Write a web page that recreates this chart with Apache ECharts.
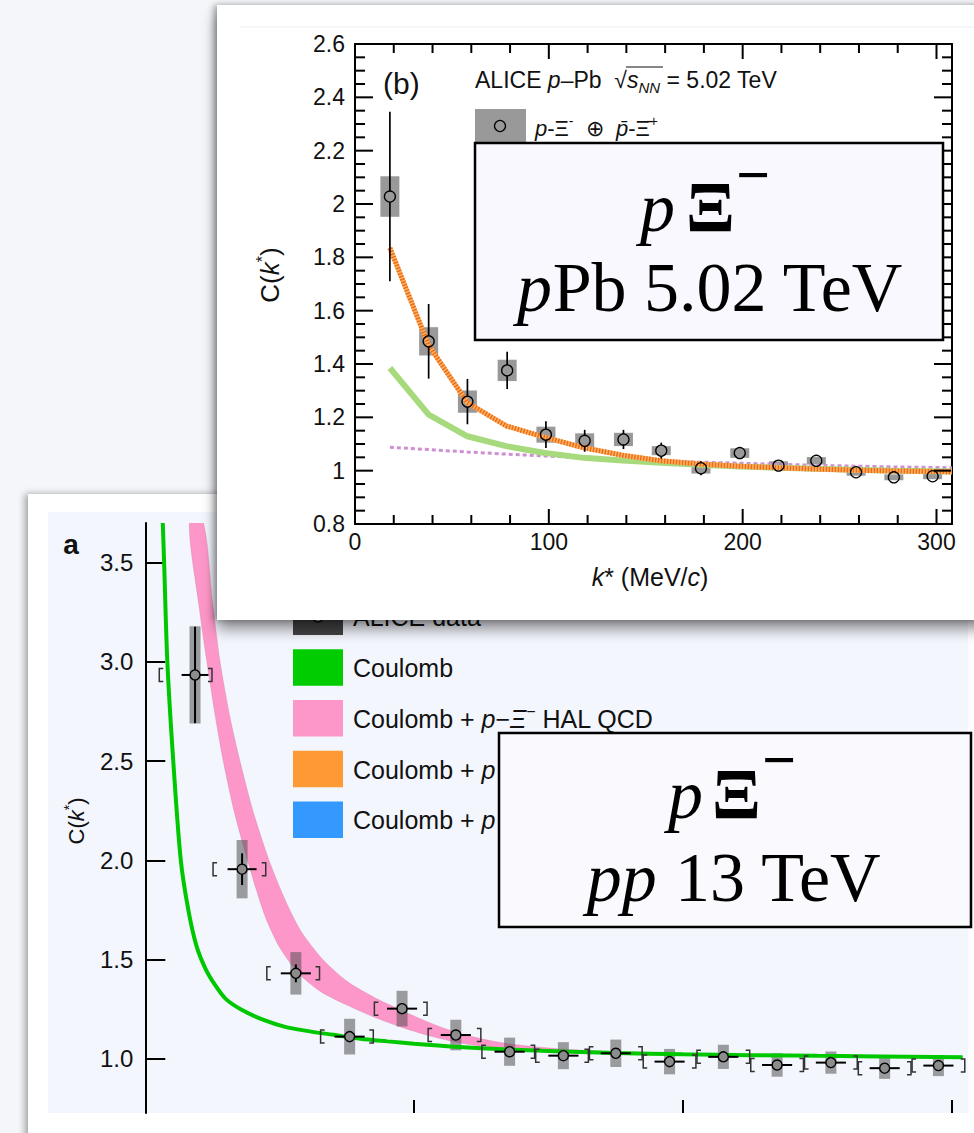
<!DOCTYPE html>
<html>
<head>
<meta charset="utf-8">
<script src="https://cdn.jsdelivr.net/npm/echarts@6/dist/echarts.min.js"></script>
<style>
html, body { margin: 0; padding: 0; width: 974px; height: 1133px; overflow: hidden; background: #f4f6fa; }
.card { position: absolute; background: #fff; overflow: hidden; }
#cardA { left: 28px; top: 494px; width: 960px; height: 660px; box-shadow: -3px 0 7px rgba(0,0,0,0.35); }
#cardB { left: 217px; top: 5px; width: 780px; height: 615px; z-index: 2;
  box-shadow: 0 9px 14px rgba(0,0,0,0.45), -3px 0 6px rgba(0,0,0,0.3); }
.chart { width: 100%; height: 100%; }
</style>
</head>
<body>
<div id="cardA" class="card"><div id="chartA" class="chart"></div></div>
<div id="cardB" class="card"><div id="chartB" class="chart"></div></div>
<script>
// ---------- panel (b): p-Pb 5.02 TeV ----------
const kB    = [18, 38, 58, 78.5, 98.5, 118.5, 138.5, 158, 178.5, 198.5, 218.5, 238, 258.5, 278, 298];
const cB    = [2.028, 1.485, 1.259, 1.376, 1.135, 1.112, 1.117, 1.075, 1.009, 1.066, 1.019, 1.037, 0.994, 0.975, 0.979];
const statB = [0.318, 0.14, 0.085, 0.07, 0.05, 0.041, 0.036, 0.03, 0.026, 0.022, 0.018, 0.015, 0.012, 0.01, 0.01];
const sysB  = [0.076, 0.053, 0.042, 0.04, 0.03, 0.028, 0.025, 0.017, 0.02, 0.018, 0.016, 0.014, 0.013, 0.011, 0.011];

const modelKB  = [18, 38, 58, 78, 98, 118, 138, 158, 178, 198, 218, 238, 258, 278, 298, 308];
const strongB  = [1.835, 1.47, 1.255, 1.168, 1.125, 1.086, 1.058, 1.037, 1.025, 1.017, 1.011, 1.006, 1.002, 0.999, 0.997, 0.996];
const coulombB = [1.385, 1.21, 1.129, 1.092, 1.066, 1.048, 1.038, 1.03, 1.022, 1.016, 1.011, 1.007, 1.003, 1.0, 0.998, 0.997];
const dottedB  = [1.088, 1.079, 1.07, 1.062, 1.055, 1.049, 1.043, 1.037, 1.032, 1.028, 1.024, 1.02, 1.017, 1.014, 1.012, 1.011];

const xMajorB = [0, 100, 200, 300];
const xMinorB = [20, 40, 60, 80, 120, 140, 160, 180, 220, 240, 260, 280];
const yMajorB = [0.8, 1, 1.2, 1.4, 1.6, 1.8, 2, 2.2, 2.4, 2.6];
const yMinorB = [0.85, 0.9, 0.95, 1.05, 1.1, 1.15, 1.25, 1.3, 1.35, 1.45, 1.5, 1.55, 1.65, 1.7, 1.75,
                 1.85, 1.9, 1.95, 2.05, 2.1, 2.15, 2.25, 2.3, 2.35, 2.45, 2.5, 2.55];

// ---------- panel (a): pp 13 TeV ----------
const kA    = [18.5, 36, 56, 76, 95.5, 115.5, 135.5, 155.5, 175, 195, 215, 235, 255, 275, 295];
const binA  = [15, 35, 55, 75, 95, 115, 135, 155, 175, 195, 215, 235, 255, 275, 295];
const cA    = [2.934, 1.955, 1.43, 1.111, 1.252, 1.119, 1.035, 1.015, 1.027, 0.985, 1.009, 0.968, 0.98, 0.952, 0.965];
const statA = [0.243, 0.08, 0.045, 0.012, 0.012, 0.01, 0.01, 0.008, 0.008, 0.008, 0.008, 0.008, 0.008, 0.008, 0.008];
const sysA  = [0.245, 0.147, 0.107, 0.09, 0.09, 0.077, 0.071, 0.068, 0.069, 0.064, 0.061, 0.059, 0.056, 0.054, 0.053];
const kErrA = [5, 5.4, 5.6, 5.6, 5.6, 5.6, 5.6, 5.6, 5.6, 5.6, 5.6, 5.6, 5.6, 5.6, 5.6];
const binHalfA = 9.8;

const coulombAK = [6.5, 7, 8.2, 10.4, 13.2, 16, 19, 22.5, 26, 30, 36, 44, 52, 60, 70, 80, 90, 100, 115, 135, 155, 175, 200, 250, 304];
const coulombAC = [3.7, 3.5, 3.0, 2.5, 2.0, 1.75, 1.57, 1.45, 1.37, 1.3, 1.245, 1.195, 1.16, 1.14, 1.12, 1.1, 1.087, 1.075, 1.06, 1.046, 1.036, 1.029, 1.022, 1.014, 1.007];

const halLowK  = [16.4, 20, 22.9, 26, 29, 33, 38, 44.5, 50, 57, 65, 75, 85, 95, 105, 115, 125, 135, 155, 175, 200, 250, 304];
const halLowC  = [3.7, 3.28, 3.0, 2.73, 2.5, 2.25, 2.0, 1.72, 1.56, 1.43, 1.34, 1.27, 1.21, 1.16, 1.118, 1.085, 1.062, 1.045, 1.032, 1.025, 1.019, 1.012, 1.006];
const halHighK = [21.6, 25, 27.8, 31.5, 35.2, 40, 46, 52, 58, 66, 75, 85, 95, 105, 115, 125, 135, 155, 175, 200, 250, 304];
const halHighC = [3.7, 3.3, 3.0, 2.72, 2.5, 2.25, 2.0, 1.8, 1.64, 1.5, 1.39, 1.31, 1.245, 1.185, 1.135, 1.1, 1.075, 1.048, 1.035, 1.026, 1.016, 1.009];

const yTicksA = [1.0, 1.5, 2.0, 2.5, 3.0, 3.5];
const xTicksA = [100, 200, 300];

const legendA = [
  { color: '#00cc00', text: '{n|Coulomb}' },
  { color: '#fe97c9', text: '{n|Coulomb + }{i|p}{n|−}{i|Ξ}{sup|−}{n| HAL QCD}' },
  { color: '#ff9933', text: '{n|Coulomb + }{i|p}' },
  { color: '#3399ff', text: '{n|Coulomb + }{i|p}' }
];

const SANS = 'Liberation Sans, Arial, Helvetica, sans-serif';
const SERIF = 'Liberation Serif, Times New Roman, serif';

function richSans(size) {
  return {
    n: { fontFamily: SANS, fontSize: size, lineHeight: size + 6, fill: '#111' },
    i: { fontFamily: SANS, fontSize: size, lineHeight: size + 6, fontStyle: 'italic', fill: '#111' },
    sup: { fontFamily: SANS, fontSize: Math.round(size * 0.62), lineHeight: Math.round(size * 0.62), verticalAlign: 'top', fill: '#111' },
    sub: { fontFamily: SANS, fontSize: Math.round(size * 0.66), lineHeight: Math.round(size * 0.66), verticalAlign: 'bottom', fontStyle: 'italic', fill: '#111' }
  };
}
function richSerif(size) {
  return {
    n: { fontFamily: SERIF, fontSize: size, fill: '#000' },
    i: { fontFamily: SERIF, fontSize: size, fontStyle: 'italic', fill: '#000' }
  };
}

// a fresh style object for every element (shared objects got lost between siblings)
const blackLine = w => ({ stroke: '#000', lineWidth: w });

// ================= chart (b) =================
const chartB = echarts.init(document.getElementById('chartB'), null, { renderer: 'svg' });
const fmtB = v => String(Math.round(v * 10) / 10);
const X0 = 0, X1 = 308, Y0 = 0.8, Y1 = 2.6;

// frame ticks on all four sides (ROOT style), placed through the axis scales
const tickData = []
  .concat(xMajorB.map(v => [v, 0, 15]))
  .concat(xMinorB.map(v => [v, 0, 9]))
  .concat(yMajorB.map(v => [v, 1, 18]))
  .concat(yMinorB.map(v => [v, 1, 10]));

function frameTicks(params, api) {
  const v = api.value(0), dim = api.value(2), len = api.value(3);
  if (dim === 0) {
    const b = api.coord([v, Y0]), t = api.coord([v, Y1]);
    return { type: 'group', children: [
      { type: 'line', shape: { x1: b[0], y1: b[1] - 1, x2: b[0], y2: b[1] - len }, style: blackLine(2) },
      { type: 'line', shape: { x1: t[0], y1: t[1] + 1, x2: t[0], y2: t[1] + len }, style: blackLine(2) }
    ] };
  }
  const l = api.coord([X0, v]), r = api.coord([X1, v]);
  return { type: 'group', children: [
    { type: 'line', shape: { x1: l[0] + 1, y1: l[1], x2: l[0] + len, y2: l[1] }, style: blackLine(2) },
    { type: 'line', shape: { x1: r[0] - 1, y1: r[1], x2: r[0] - len, y2: r[1] }, style: blackLine(2) }
  ] };
}

chartB.setOption({
  animation: false,
  grid: { left: 138, top: 39, right: 45, bottom: 96 },
  xAxis: [
    {
      type: 'value', min: X0, max: X1, position: 'bottom',
      axisLine: { show: true, onZero: false, lineStyle: { color: '#000', width: 2 } },
      axisTick: { show: false },
      axisLabel: { show: true, customValues: xMajorB, fontSize: 23, margin: 6, color: '#111', fontFamily: SANS },
      splitLine: { show: false }
    },
    {
      type: 'value', min: X0, max: X1, position: 'top',
      axisLine: { show: true, onZero: false, lineStyle: { color: '#000', width: 2 } },
      axisTick: { show: false }, axisLabel: { show: false }, splitLine: { show: false }
    }
  ],
  yAxis: [
    {
      type: 'value', min: Y0, max: Y1, position: 'left',
      axisLine: { show: true, onZero: false, lineStyle: { color: '#000', width: 2 } },
      axisTick: { show: false },
      axisLabel: { show: true, customValues: yMajorB, fontSize: 23, margin: 10, color: '#111', fontFamily: SANS, formatter: fmtB },
      splitLine: { show: false }
    },
    {
      type: 'value', min: Y0, max: Y1, position: 'right',
      axisLine: { show: true, onZero: false, lineStyle: { color: '#000', width: 2 } },
      axisTick: { show: false }, axisLabel: { show: false }, splitLine: { show: false }
    }
  ],
  series: [
    {
      type: 'custom', z: 1,
      data: kB.map((k, i) => [k, cB[i], sysB[i]]),
      renderItem: (params, api) => {
        const a = api.coord([api.value(0), api.value(1) + api.value(2)]);
        const b = api.coord([api.value(0), api.value(1) - api.value(2)]);
        return { type: 'rect', shape: { x: a[0] - 9.5, y: a[1], width: 19, height: b[1] - a[1] }, style: { fill: '#999999' } };
      }
    },
    {
      type: 'line', z: 2, showSymbol: false, silent: true,
      data: modelKB.map((k, i) => [k, dottedB[i]]),
      lineStyle: { color: '#cf8fd3', width: 3, type: [4, 3] }
    },
    {
      type: 'line', z: 3, showSymbol: false, silent: true,
      data: modelKB.map((k, i) => [k, coulombB[i]]),
      lineStyle: { color: '#a6da7c', width: 6 }
    },
    {
      type: 'line', z: 4, showSymbol: false, silent: true,
      data: modelKB.map((k, i) => [k, strongB[i]]),
      lineStyle: { color: '#fbb46a', width: 5 }
    },
    {
      type: 'line', z: 5, showSymbol: false, silent: true,
      data: modelKB.map((k, i) => [k, strongB[i]]),
      lineStyle: { color: '#ef6c12', width: 5, type: [1.5, 1.5] }
    },
    {
      type: 'custom', z: 6,
      data: kB.map((k, i) => [k, cB[i], statB[i]]),
      renderItem: (params, api) => {
        const c = api.coord([api.value(0), api.value(1)]);
        const a = api.coord([api.value(0), api.value(1) + api.value(2)]);
        const b = api.coord([api.value(0), api.value(1) - api.value(2)]);
        const r = 5.5, ch = [];
        if (c[1] - a[1] > r) ch.push({ type: 'line', shape: { x1: c[0], y1: a[1], x2: c[0], y2: c[1] - r }, style: blackLine(1.7) });
        if (b[1] - c[1] > r) ch.push({ type: 'line', shape: { x1: c[0], y1: c[1] + r, x2: c[0], y2: b[1] }, style: blackLine(1.7) });
        return { type: 'group', children: ch };
      }
    },
    {
      type: 'scatter', z: 7, symbol: 'circle', symbolSize: 11,
      data: kB.map((k, i) => [k, cB[i]]),
      itemStyle: { color: 'rgba(0,0,0,0)', borderColor: '#000', borderWidth: 1.3, opacity: 1 }
    },
    {
      // y = 1.5 only keeps every tick item inside the axis range
      type: 'custom', z: 20, silent: true, clip: false,
      data: tickData.map(t => [t[0], 1.5, t[1], t[2]]),
      encode: { x: 0, y: 1 },
      renderItem: frameTicks
    }
  ],
  graphic: [
    { type: 'line', z: 0, shape: { x1: 23, y1: 22, x2: 780, y2: 22 }, style: { stroke: '#eceef2', lineWidth: 1 } },
    { type: 'text', z: 50, x: 166, y: 78, style: { text: '(b)', fontFamily: SANS, fontSize: 30, fill: '#111', textVerticalAlign: 'middle' } },
    { type: 'text', z: 50, x: 258, y: 75, style: { text: '{n|ALICE }{i|p}{n|–Pb  √}{i|s}{sub|NN}{n| = 5.02 TeV}', rich: richSans(23), textVerticalAlign: 'middle' } },
    { type: 'line', z: 50, shape: { x1: 409, y1: 62, x2: 446, y2: 62 }, style: { stroke: '#111', lineWidth: 1.2 } },
    { type: 'rect', z: 50, shape: { x: 258, y: 104, width: 51, height: 34 }, style: { fill: '#999999' } },
    { type: 'circle', z: 51, shape: { cx: 283, cy: 121, r: 5.5 }, style: { fill: 'none', stroke: '#000', lineWidth: 1.3 } },
    { type: 'text', z: 50, x: 318, y: 123, style: { text: '{i|p}{n|-Ξ}{sup|-}{n|  ⊕  }{i|p̄}{n|-Ξ̄}{sup|+}', rich: richSans(22), textVerticalAlign: 'middle' } },
    { type: 'rect', z: 60, shape: { x: 258, y: 138, width: 468, height: 197 }, style: { fill: '#f8f8fe', stroke: '#000', lineWidth: 2.5 } },
    { type: 'text', z: 61, x: 423, y: 202, style: { text: 'p', fontFamily: SERIF, fontSize: 70, fontStyle: 'italic', fill: '#000', textVerticalAlign: 'middle' } },
    { type: 'text', z: 61, x: 469, y: 202, style: { text: 'Ξ', fontFamily: SERIF, fontSize: 72, fontWeight: 'bold', fill: '#000', textVerticalAlign: 'middle' } },
    { type: 'text', z: 61, x: 519, y: 170, style: { text: '−', fontFamily: SERIF, fontSize: 60, fontWeight: 'bold', fill: '#000', textVerticalAlign: 'middle' } },
    { type: 'text', z: 61, x: 493, y: 282, style: { text: '{i|p}{n|Pb 5.02 TeV}', rich: richSerif(70), textAlign: 'center', textVerticalAlign: 'middle' } },
    { type: 'text', z: 50, x: 53, y: 270, rotation: Math.PI / 2,
      style: { text: '{n|C(}{i|k}{sup|*}{n|)}', rich: richSans(26), textAlign: 'center', textVerticalAlign: 'middle' } },
    { type: 'text', z: 50, x: 433, y: 572,
      style: { text: '{i|k}{n|* (MeV/}{i|c}{n|)}', rich: richSans(25), textAlign: 'center', textVerticalAlign: 'middle' } }
  ]
});

// ================= chart (a) =================
const chartA = echarts.init(document.getElementById('chartA'), null, { renderer: 'svg' });
const legendGraphics = [];
legendA.forEach((item, i) => {
  const y = 155.3 + i * 50.7;
  legendGraphics.push({ type: 'rect', z: 10, shape: { x: 265, y: y, width: 50, height: 36.5 }, style: { fill: item.color } });
  legendGraphics.push({ type: 'text', z: 10, x: 325, y: y + 19, style: { text: item.text, rich: richSans(25), textVerticalAlign: 'middle' } });
});

chartA.setOption({
  animation: false,
  grid: { left: 117.3, top: 29, right: 20, bottom: 41 },
  xAxis: [
    {
      type: 'value', min: 0, max: 306,
      axisLine: { show: true, onZero: false, lineStyle: { color: 'rgba(0,0,0,0)' } },
      axisTick: { show: true, inside: true, length: 13, customValues: xTicksA, lineStyle: { color: '#000', width: 2 } },
      axisLabel: { show: false }, splitLine: { show: false }
    }
  ],
  yAxis: [
    {
      type: 'value', min: 0.726, max: 3.7,
      axisLine: { show: true, onZero: false, lineStyle: { color: '#000', width: 2 } },
      axisTick: { show: true, inside: true, length: 20, customValues: yTicksA, lineStyle: { color: '#000', width: 2 } },
      axisLabel: { show: true, customValues: yTicksA, fontSize: 24, margin: 12, color: '#111', fontFamily: SANS, formatter: v => v.toFixed(1) },
      splitLine: { show: false }
    }
  ],
  series: [
    {
      type: 'custom', z: 1, clip: true, silent: true,
      data: [[0, 1]],
      renderItem: (params, api) => {
        const pts = halHighK.map((k, i) => api.coord([k, halHighC[i]]))
          .concat(halLowK.map((k, i) => api.coord([k, halLowC[i]])).reverse());
        return { type: 'polygon', shape: { points: pts, smooth: 0.25 }, style: { fill: '#fe97c9', stroke: 'rgba(200,120,160,0.35)', lineWidth: 1 } };
      }
    },
    {
      type: 'custom', z: 2,
      data: kA.map((k, i) => [k, cA[i], sysA[i]]),
      renderItem: (params, api) => {
        const a = api.coord([api.value(0), api.value(1) + api.value(2)]);
        const b = api.coord([api.value(0), api.value(1) - api.value(2)]);
        return { type: 'rect', shape: { x: a[0] - 5.5, y: a[1], width: 11, height: b[1] - a[1] }, style: { fill: 'rgba(80,80,80,0.55)' } };
      }
    },
    {
      type: 'line', z: 3, showSymbol: false, silent: true, smooth: 0.3,
      data: coulombAK.map((k, i) => [k, coulombAC[i]]),
      lineStyle: { color: '#00c800', width: 4 }
    },
    {
      type: 'custom', z: 4,
      data: kA.map((k, i) => [k, cA[i], statA[i], binA[i], kErrA[i]]),
      renderItem: (params, api) => {
        const k = api.value(0), c = api.value(1), st = api.value(2), bin = api.value(3), kx = api.value(4);
        const p = api.coord([k, c]);
        const t = api.coord([k, c + st]);
        const b = api.coord([k, c - st]);
        const l = api.coord([k - kx, c]);
        const r = api.coord([k + kx, c]);
        const bl = api.coord([bin - binHalfA, c]);
        const br = api.coord([bin + binHalfA, c]);
        const bracket = () => ({ stroke: '#333', lineWidth: 1.5, fill: 'none' });
        const h = 6.5, w = 4;
        return {
          type: 'group', children: [
            { type: 'line', shape: { x1: p[0], y1: t[1], x2: p[0], y2: b[1] }, style: blackLine(2) },
            { type: 'line', shape: { x1: l[0], y1: p[1], x2: r[0], y2: p[1] }, style: blackLine(2) },
            { type: 'polyline', shape: { points: [[bl[0] + w, p[1] - h], [bl[0], p[1] - h], [bl[0], p[1] + h], [bl[0] + w, p[1] + h]] }, style: bracket() },
            { type: 'polyline', shape: { points: [[br[0] - w, p[1] - h], [br[0], p[1] - h], [br[0], p[1] + h], [br[0] - w, p[1] + h]] }, style: bracket() }
          ]
        };
      }
    },
    {
      type: 'scatter', z: 5, symbol: 'circle', symbolSize: 10,
      data: kA.map((k, i) => [k, cA[i]]),
      itemStyle: { color: '#8c8c8c', borderColor: '#000', borderWidth: 1.4, opacity: 1 }
    }
  ],
  graphic: [
    { type: 'rect', z: -5, shape: { x: 20, y: 18, width: 920, height: 601 }, style: { fill: '#f3f6fd' } },
    { type: 'text', z: 10, x: 43, y: 50, style: { text: 'a', fontFamily: SANS, fontSize: 28, fontWeight: 'bold', fill: '#111', textAlign: 'center', textVerticalAlign: 'middle' } },
    { type: 'text', z: 10, x: 48, y: 327, rotation: Math.PI / 2,
      style: { text: '{n|C(}{i|k}{sup|*}{n|)}', rich: richSans(22), textAlign: 'center', textVerticalAlign: 'middle' } },
    { type: 'rect', z: 10, shape: { x: 265, y: 104.6, width: 50, height: 36.5 }, style: { fill: '#444444' } },
    { type: 'circle', z: 11, shape: { cx: 290, cy: 123, r: 5 }, style: { fill: '#8c8c8c', stroke: '#000', lineWidth: 1.4 } },
    { type: 'text', z: 10, x: 325, y: 123, style: { text: 'ALICE data', fontFamily: SANS, fontSize: 25, fill: '#111', textVerticalAlign: 'middle' } },
    ...legendGraphics,
    { type: 'rect', z: 60, shape: { x: 471, y: 239, width: 472, height: 194 }, style: { fill: '#f9f9fe', stroke: '#000', lineWidth: 2.5 } },
    { type: 'text', z: 61, x: 640, y: 300, style: { text: 'p', fontFamily: SERIF, fontSize: 70, fontStyle: 'italic', fill: '#000', textVerticalAlign: 'middle' } },
    { type: 'text', z: 61, x: 684, y: 300, style: { text: 'Ξ', fontFamily: SERIF, fontSize: 72, fontWeight: 'bold', fill: '#000', textVerticalAlign: 'middle' } },
    { type: 'text', z: 61, x: 734, y: 266, style: { text: '−', fontFamily: SERIF, fontSize: 60, fontWeight: 'bold', fill: '#000', textVerticalAlign: 'middle' } },
    { type: 'text', z: 61, x: 706, y: 383, style: { text: '{i|pp}{n| 13 TeV}', rich: richSerif(70), textAlign: 'center', textVerticalAlign: 'middle' } }
  ]
});
</script>
</body>
</html>
